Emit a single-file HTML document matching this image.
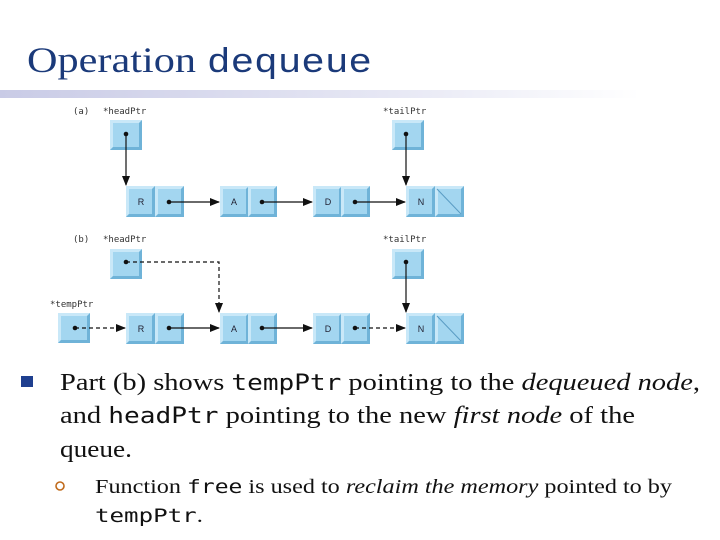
<!DOCTYPE html>
<html><head><meta charset="utf-8"><style>
html,body{margin:0;padding:0;background:#fff;width:720px;height:540px;overflow:hidden}
</style></head><body>
<svg width="720" height="540" viewBox="0 0 720 540" xmlns="http://www.w3.org/2000/svg">
<defs>
<linearGradient id="bar" x1="0" x2="1"><stop offset="0" stop-color="#c9cbe6"/><stop offset="0.6" stop-color="#e6e7f4"/><stop offset="1" stop-color="#fff"/></linearGradient>
<marker id="ah" markerWidth="10" markerHeight="8" refX="9" refY="4" orient="auto" markerUnits="userSpaceOnUse"><path d="M0,0 L10,4 L0,8 z" fill="#111"/></marker>
<g id="cell"><rect x="0" y="0" width="29" height="31" fill="#a3d6f0"/><path d="M0,0 H29 L26,3 H3 V28 L0,31 Z" fill="#c9e8f8"/><path d="M29,0 V31 H0 L3,28 H26 V3 Z" fill="#6fb3d8"/></g>
<g id="cellb"><rect x="0" y="0" width="32" height="30" fill="#a3d6f0"/><path d="M0,0 H32 L29,3 H3 V27 L0,30 Z" fill="#c9e8f8"/><path d="M32,0 V30 H0 L3,27 H29 V3 Z" fill="#6fb3d8"/></g>
</defs>
<text x="27" y="72" font-family="Liberation Serif, serif" font-size="36" fill="#1b3a7a" textLength="169" lengthAdjust="spacingAndGlyphs">Operation</text>
<text x="207" y="72" font-family="Liberation Mono, monospace" font-size="34" fill="#1b3a7a" textLength="165" lengthAdjust="spacingAndGlyphs">dequeue</text>
<rect x="0" y="90" width="640" height="8" fill="url(#bar)"/>

<g font-family="DejaVu Sans Mono, monospace" font-size="9" fill="#333">
<text x="73" y="114">(a)</text><text x="103" y="114">*headPtr</text><text x="383" y="114">*tailPtr</text>
<text x="73" y="242">(b)</text><text x="103" y="242">*headPtr</text><text x="383" y="242">*tailPtr</text>
<text x="50" y="307">*tempPtr</text>
</g>
<!-- (a) -->
<use href="#cellb" x="110" y="120"/><use href="#cellb" x="392" y="120"/>
<g>
<use href="#cell" x="126" y="186"/><use href="#cell" x="155" y="186"/>
<use href="#cell" x="220" y="186"/><use href="#cell" x="248" y="186"/>
<use href="#cell" x="313" y="186"/><use href="#cell" x="341" y="186"/>
<use href="#cell" x="406" y="186"/><use href="#cell" x="435" y="186"/>
<line x1="437" y1="189" x2="461" y2="214" stroke="#5a9cc4" stroke-width="1"/>
</g>
<!-- (b) -->
<use href="#cellb" x="110" y="249"/><use href="#cellb" x="392" y="249"/><use href="#cellb" x="58" y="313"/>
<use href="#cell" x="126" y="313"/><use href="#cell" x="155" y="313"/>
<use href="#cell" x="220" y="313"/><use href="#cell" x="248" y="313"/>
<use href="#cell" x="313" y="313"/><use href="#cell" x="341" y="313"/>
<use href="#cell" x="406" y="313"/><use href="#cell" x="435" y="313"/>
<line x1="437" y1="316" x2="461" y2="341" stroke="#5a9cc4" stroke-width="1"/>

<g font-family="Liberation Sans, sans-serif" font-size="9" fill="#223" text-anchor="middle">
<text x="141" y="205">R</text><text x="234" y="205">A</text><text x="328" y="205">D</text><text x="421" y="205">N</text>
<text x="141" y="332">R</text><text x="234" y="332">A</text><text x="328" y="332">D</text><text x="421" y="332">N</text>
</g>
<g fill="#111">
<circle cx="126" cy="134" r="2.3"/><circle cx="406" cy="134" r="2.3"/>
<circle cx="169" cy="202" r="2.3"/><circle cx="262" cy="202" r="2.3"/><circle cx="355" cy="202" r="2.3"/>
<circle cx="126" cy="262" r="2.3"/><circle cx="406" cy="262" r="2.3"/><circle cx="75" cy="328" r="2.3"/>
<circle cx="169" cy="328" r="2.3"/><circle cx="262" cy="328" r="2.3"/><circle cx="355" cy="328" r="2.3"/>
</g>
<g stroke="#111" stroke-width="1.2" fill="none" marker-end="url(#ah)">
<line x1="126" y1="134" x2="126" y2="185"/>
<line x1="406" y1="134" x2="406" y2="185"/>
<line x1="169" y1="202" x2="219" y2="202"/>
<line x1="262" y1="202" x2="312" y2="202"/>
<line x1="355" y1="202" x2="405" y2="202"/>
<line x1="406" y1="262" x2="406" y2="312"/>
<line x1="169" y1="328" x2="219" y2="328"/>
<line x1="262" y1="328" x2="312" y2="328"/>
</g>
<g stroke="#111" stroke-width="1.2" fill="none" stroke-dasharray="4,3" marker-end="url(#ah)">
<polyline points="126,262 219,262 219,312"/>
<line x1="75" y1="328" x2="125" y2="328"/>
<line x1="355" y1="328" x2="405" y2="328"/>
</g>

<rect x="21" y="376" width="12" height="11" fill="#1f3f8f"/>
<g font-family="Liberation Serif, serif" font-size="24" fill="#111">
<text x="60" y="390" textLength="640" lengthAdjust="spacingAndGlyphs">Part (b) shows <tspan font-family="DejaVu Sans Mono, monospace" font-size="22">tempPtr</tspan> pointing to the <tspan font-style="italic">dequeued node</tspan>,</text>
<text x="60" y="423" textLength="575" lengthAdjust="spacingAndGlyphs">and <tspan font-family="DejaVu Sans Mono, monospace" font-size="22">headPtr</tspan> pointing to the new <tspan font-style="italic">first node</tspan> of the</text>
<text x="60" y="457" textLength="72" lengthAdjust="spacingAndGlyphs">queue.</text>
</g>
<circle cx="60" cy="486" r="4" fill="none" stroke="#c06a1a" stroke-width="1.6"/>
<g font-family="Liberation Serif, serif" font-size="20" fill="#111">
<text x="95" y="493" textLength="577" lengthAdjust="spacingAndGlyphs">Function <tspan font-family="DejaVu Sans Mono, monospace" font-size="19">free</tspan> is used to <tspan font-style="italic">reclaim the memory</tspan> pointed to by</text>
<text x="95" y="522" textLength="108" lengthAdjust="spacingAndGlyphs"><tspan font-family="DejaVu Sans Mono, monospace" font-size="19">tempPtr</tspan>.</text>
</g>
</svg>
</body></html>
